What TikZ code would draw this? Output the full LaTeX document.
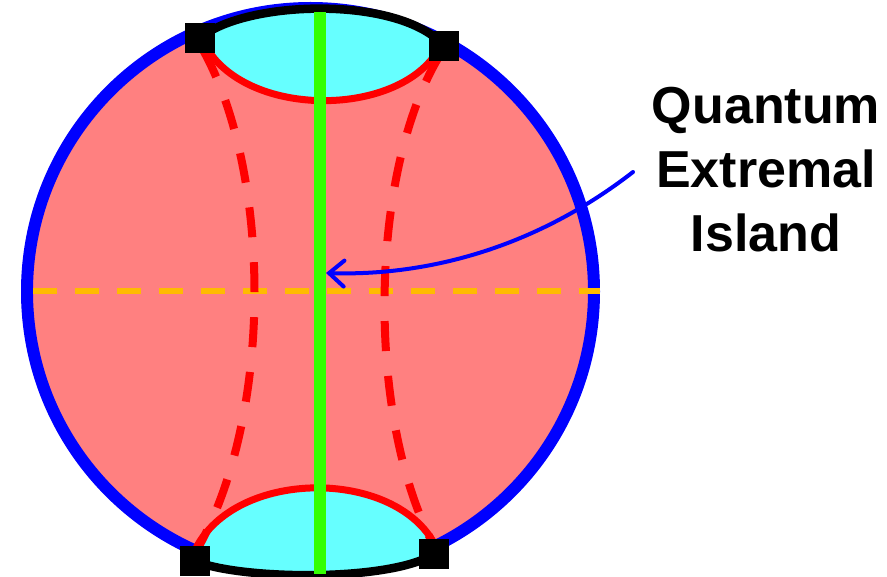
\documentclass[tikz,border=0pt]{standalone}
\usepackage{fontspec}
\setmainfont{Liberation Sans}
\usetikzlibrary{arrows.meta}
\definecolor{pinkfill}{RGB}{255,128,128}
\definecolor{capcyan}{RGB}{102,255,255}
\definecolor{lgreen}{RGB}{51,255,0}
\definecolor{dorange}{RGB}{255,187,0}
\tikzset{
  sqnode/.style={fill=black, minimum size=30pt, inner sep=0pt, outer sep=0pt},
  redsolid/.style={red, line width=7pt},
  reddash/.style={red, line width=8pt, dash pattern=on 30pt off 25pt},
  blackarc/.style={black, line width=8.5pt},
  labeltext/.style={font=\bfseries\fontsize{52}{64}\selectfont, align=center, inner sep=0pt}
}
\begin{document}
\begin{tikzpicture}[x=1pt,y=-1pt]
\useasboundingbox (0,0) rectangle (887,577);
% disk
\coordinate (c) at (310.5,291.5);
\fill[pinkfill] (c) circle[radius=283.5];
\draw[blue, line width=12pt] (c) circle[radius=283.5];
% corner marker positions
\coordinate (tlc) at (200,38);
\coordinate (trc) at (444,46);
\coordinate (blc) at (195,561);
\coordinate (brc) at (434,554);
% cyan caps
\fill[capcyan] (tlc) .. controls (245,0) and (400,-5) .. (trc) -- (437,52)
   .. controls (395,118) and (245,118) .. (205,45) -- cycle;
\fill[capcyan] (blc) .. controls (240,580) and (390,582) .. (brc) -- (435,545)
   .. controls (395,468) and (235,468) .. (195,550) -- cycle;
% black boundary arcs
\draw[blackarc] (tlc) .. controls (245,0) and (400,-5) .. (trc);
\draw[blackarc] (blc) .. controls (240,580) and (390,582) .. (brc);
% orange horizontal dashed
\coordinate (ol) at (33,291);
\coordinate (or) at (600,291);
\draw[dorange, line width=6.5pt, dash pattern=on 24pt off 18pt] (ol) -- (or);
% red dashed curves
\draw[reddash] (203,50) .. controls (270,170) and (275,410) .. (198,548);
\draw[reddash] (440,55) .. controls (370,170) and (365,410) .. (432,542);
% red solid curves
\draw[redsolid] (205,45) .. controls (245,118) and (395,118) .. (437,52);
\draw[redsolid] (195,550) .. controls (235,468) and (395,468) .. (435,545);
% green vertical
\coordinate (gt) at (320,12);
\coordinate (gb) at (320,574);
\draw[lgreen, line width=11.5pt] (gt) -- (gb);
% squares
\node[sqnode] (tl) at (tlc) {};
\node[sqnode] (tr) at (trc) {};
\node[sqnode] (bl) at (blc) {};
\node[sqnode] (br) at (brc) {};
% label and arrow
\node[labeltext] (lab) at (766,170) {Quantum\\Extremal\\Island};
\coordinate (as) at (633,172);
\coordinate (tip) at (326,273);
\draw[blue, line width=4pt, line cap=round, -{Straight Barb[length=15pt,width=26pt,line cap=round]}]
  (as) .. controls (530,252) and (420,276) .. (tip);
\end{tikzpicture}
\end{document}
